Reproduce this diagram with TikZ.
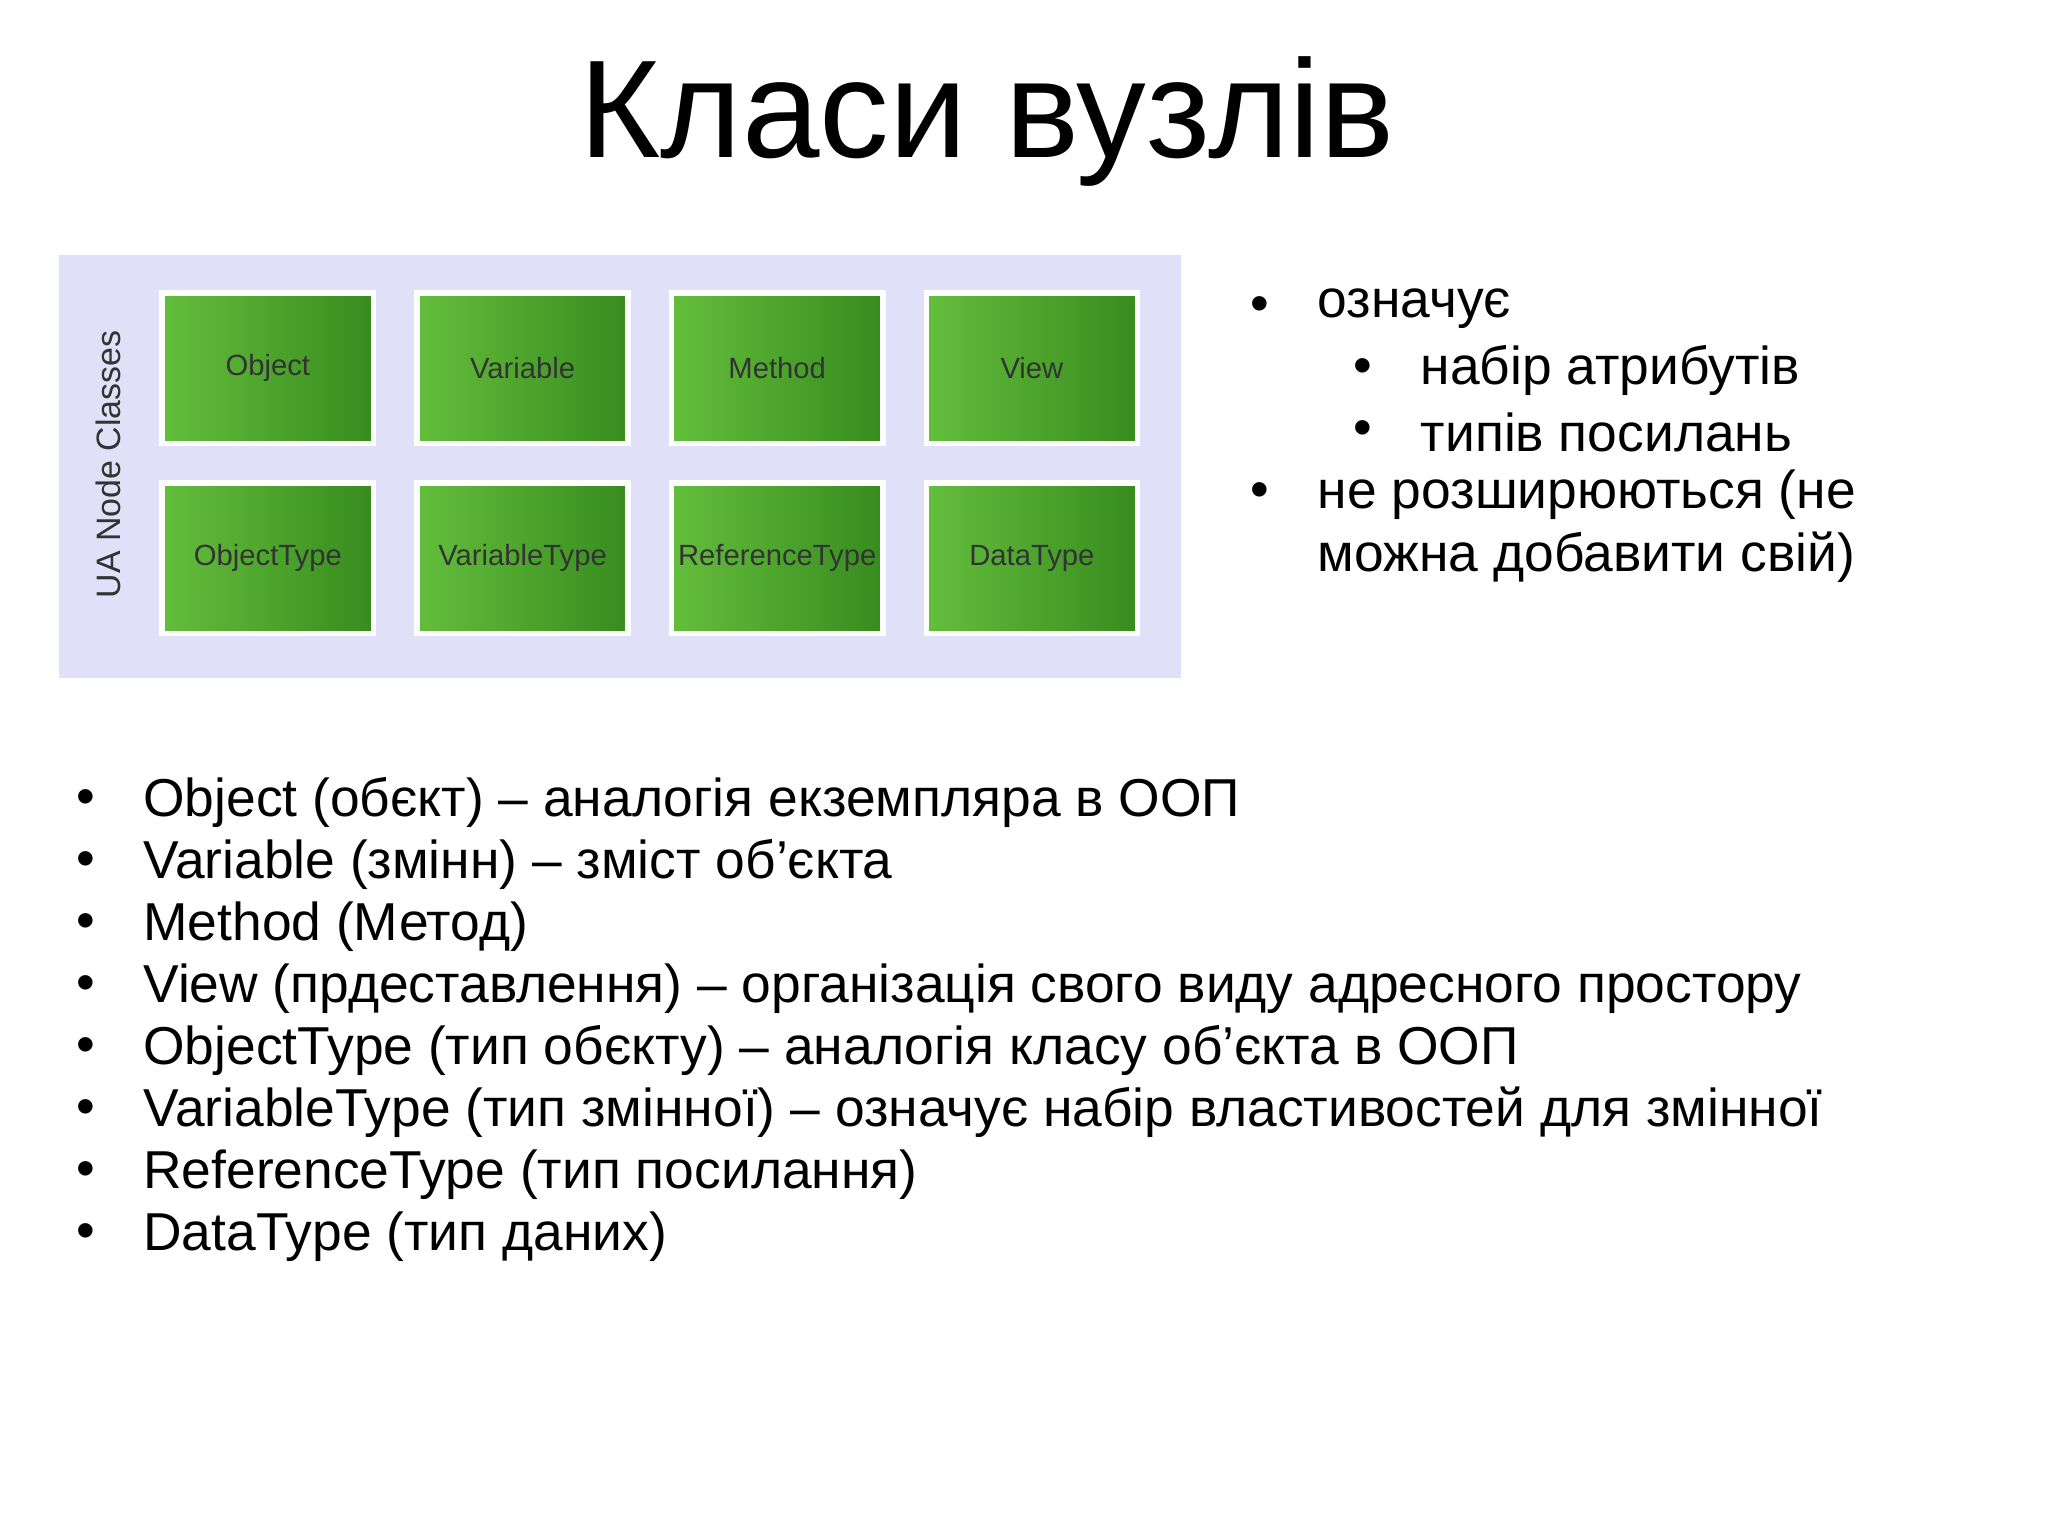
\documentclass[tikz,border=0pt]{standalone}
\usepackage{fontspec}
\setmainfont{Liberation Sans}
\begin{document}
\begin{tikzpicture}[x=0.01cm,y=-0.01cm,
  gbox/.style={draw=white,line width=1.2pt,left color={rgb,255:red,100;green,190;blue,60},right color={rgb,255:red,55;green,140;blue,30},minimum width=1.6cm,minimum height=1.14cm,inner sep=0pt,font=\fontsize{6.3}{7}\selectfont,text=black!80},
  btxt/.style={anchor=west,inner sep=0pt,font=\fontsize{11.5}{13}\selectfont},
  bul/.style={inner sep=0pt,font=\fontsize{11.5}{13}\selectfont}]
\useasboundingbox (0,0) rectangle (1552,1164);
\node[font=\fontsize{30}{34}\selectfont] (title) at (748,92) {Класи вузлів};
\fill[fill={rgb,255:red,224;green,224;blue,248}] (45,193) rectangle (895,514);
\node[rotate=90,font=\fontsize{7.3}{8}\selectfont,text=black!80] (lbl) at (82,352) {UA Node Classes};
\foreach \n/\t/\x/\y in {o/Object/203/279,v/Variable/396/279,m/Method/589/279,w/View/782/279,
  ot/ObjectType/203/423,vt/VariableType/396/423,rt/ReferenceType/589/423,dt/DataType/782/423}
  \node[gbox] (\n) at (\x,\y) {\t};
\foreach \i/\bx/\tx/\y/\t in {a/955/998/234/означує, b/1033/1076/281/набір атрибутів, c/1033/1076/328/типів посилань, d/955/998/375/не розширюються (не}{
  \node[bul] (rb\i) at (\bx,\y) {•};
  \node[btxt] (rt\i) at (\tx,\y) {\t};}
\node[btxt] (rte) at (998,422) {можна добавити свій)};
\foreach \i/\t in {0/Object (обєкт) – аналогія екземпляра в ООП,1/Variable (змінн) – зміст об'єкта,2/Method (Метод),3/View (прдеставлення) – організація свого виду адресного простору,4/ObjectType (тип обєкту) – аналогія класу об'єкта в ООП,5/VariableType (тип змінної) – означує набір властивостей для змінної,6/ReferenceType (тип посилання),7/DataType (тип даних)}{
  \node[bul] (lb\i) at (65,608+47*\i) {•};
  \node[btxt] (lt\i) at (108,608+47*\i) {\t};}
\end{tikzpicture}
\end{document}
